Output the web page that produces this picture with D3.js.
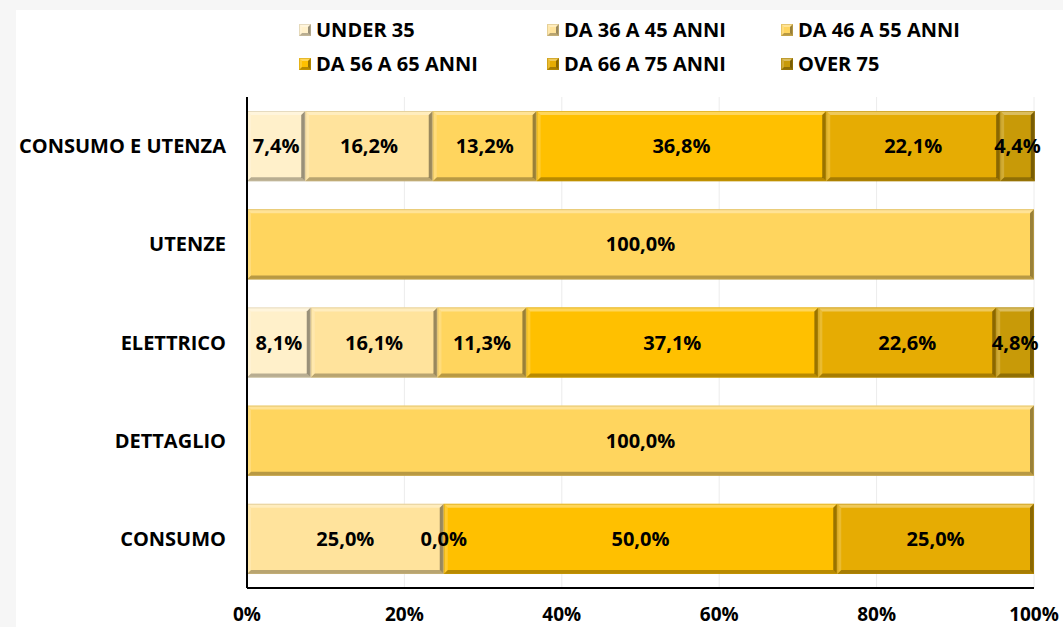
<!DOCTYPE html>
<html lang="it">
<head>
<meta charset="UTF-8">
<script src="https://d3js.org/d3.v7.min.js"></script>
<title>Fasce di età per settore</title>
<style>
  body { margin: 0; background: #f6f6f6; }
  text { font-family: "Open Sans", sans-serif; font-weight: 700; fill: #000; }
</style>
</head>
<body>
<div id="chart"></div>
<script>

// categories (top to bottom) and series in stacking order
const categories = ["CONSUMO E UTENZA", "UTENZE", "ELETTRICO", "DETTAGLIO", "CONSUMO"];
const seriesNames = ["UNDER 35", "DA 36 A 45 ANNI", "DA 46 A 55 ANNI", "DA 56 A 65 ANNI", "DA 66 A 75 ANNI", "OVER 75"];
const seriesColors = ["#FFF0CA", "#FFE39C", "#FFD55E", "#FFC000", "#E6AC03", "#C89A08"];

// percentages per series, one per category (null = no value)
const under35   = [7.4,  null, 8.1,  null, null];
const da36a45   = [16.2, null, 16.1, null, 25.0];
const da46a55   = [13.2, 100,  11.3, 100,  0.0];
const da56a65   = [36.8, null, 37.1, null, 50.0];
const da66a75   = [22.1, null, 22.6, null, 25.0];
const over75    = [4.4,  null, 4.8,  null, null];
const seriesValues = [under35, da36a45, da46a55, da56a65, da66a75, over75];

const xTicks = [0, 20, 40, 60, 80, 100];

const W = 1063, H = 627;

const svg = d3.select("#chart").append("svg")
  .attr("width", W).attr("height", H);

// grey frame + white chart area
svg.append("rect").attr("width", W).attr("height", H).attr("fill", "#f6f6f6");
svg.append("rect").attr("x", 16).attr("y", 10).attr("width", W - 16).attr("height", H - 10).attr("fill", "#fff");

const x = d3.scaleLinear().domain([0, 100]).range([247, 1034]);
const y = d3.scaleBand().domain(categories).range([97, 588])
  .paddingInner(0.285).paddingOuter(0.1425);

// gridlines
svg.append("g").selectAll("line")
  .data(xTicks.slice(1))
  .join("line")
  .attr("x1", d => x(d)).attr("x2", d => x(d))
  .attr("y1", 97).attr("y2", 588)
  .attr("stroke", "#ececec").attr("stroke-width", 1);

// bevelled rectangle like the excel "cool slant" bar
function bevel(g, x0, y0, w, h, color, b) {
  b = Math.min(b, w / 2, h / 2);
  g.append("rect").attr("x", x0).attr("y", y0).attr("width", w).attr("height", h).attr("fill", color);
  if (w <= 0) return;
  const x1 = x0 + w, y1 = y0 + h;
  const faces = [
    [[x0, y0], [x1, y0], [x1 - b, y0 + b], [x0 + b, y0 + b], "#fff", 0.35],
    [[x0, y1], [x1, y1], [x1 - b, y1 - b], [x0 + b, y1 - b], "#000", 0.28],
    [[x0, y0], [x0 + b, y0 + b], [x0 + b, y1 - b], [x0, y1], "#fff", 0.18],
    [[x1, y0], [x1 - b, y0 + b], [x1 - b, y1 - b], [x1, y1], "#000", 0.4]
  ];
  faces.forEach(f => {
    g.append("path")
      .attr("d", "M" + f.slice(0, 4).map(p => p.join(",")).join("L") + "Z")
      .attr("fill", f[4]).attr("fill-opacity", f[5]);
  });
  g.append("rect").attr("x", x0 + 0.5).attr("y", y0 + 0.5).attr("width", Math.max(0, w - 1)).attr("height", h - 1)
    .attr("fill", "none").attr("stroke", d3.color(color).darker(0.6)).attr("stroke-opacity", 0.5);
}

// stacked segments
const bars = svg.append("g");
const labels = [];
const fmt = v => d3.format(".1f")(v).replace(".", ",") + "%";

categories.forEach((cat, ci) => {
  let acc = 0;
  seriesValues.forEach((vals, si) => {
    const v = vals[ci];
    if (v === null) return;
    const x0 = x(acc), x1 = x(acc + v);
    if (v > 0) bevel(bars.append("g"), x0, y(cat), x1 - x0, y.bandwidth(), seriesColors[si], 4);
    labels.push({ x: (x0 + x1) / 2, y: y(cat) + y.bandwidth() / 2, t: fmt(v) });
    acc += v;
  });
});

svg.append("g").selectAll("text")
  .data(labels)
  .join("text")
  .attr("x", d => d.x).attr("y", d => d.y)
  .attr("dy", "0.35em")
  .attr("text-anchor", "middle")
  .style("font-size", "20px")
  .text(d => d.t);

// axes lines
svg.append("line").attr("x1", x(0)).attr("x2", x(0)).attr("y1", 97).attr("y2", 588)
  .attr("stroke", "#000").attr("stroke-width", 2);
svg.append("line").attr("x1", x(0)).attr("x2", x(100)).attr("y1", 588).attr("y2", 588)
  .attr("stroke", "#000").attr("stroke-width", 2);

// category labels
svg.append("g").selectAll("text")
  .data(categories)
  .join("text")
  .attr("x", 226)
  .attr("y", d => y(d) + y.bandwidth() / 2)
  .attr("dy", "0.35em")
  .attr("text-anchor", "end")
  .style("font-size", "20px")
  .text(d => d);

// x tick labels
svg.append("g").selectAll("text")
  .data(xTicks)
  .join("text")
  .attr("x", d => x(d))
  .attr("y", 621)
  .attr("text-anchor", "middle")
  .style("font-size", "19px")
  .text(d => d + "%");

// legend, 3 columns x 2 rows
const legendX = [299, 547, 781];
const legendY = [30, 64];
const legend = svg.append("g");
seriesNames.forEach((name, i) => {
  const lx = legendX[i % 3], ly = legendY[Math.floor(i / 3)];
  bevel(legend.append("g"), lx, ly - 6, 12, 12, seriesColors[i], 3);
  legend.append("text")
    .attr("x", lx + 17).attr("y", ly)
    .attr("dy", "0.35em")
    .style("font-size", "20px")
    .text(name);
});

</script>
</body>
</html>
